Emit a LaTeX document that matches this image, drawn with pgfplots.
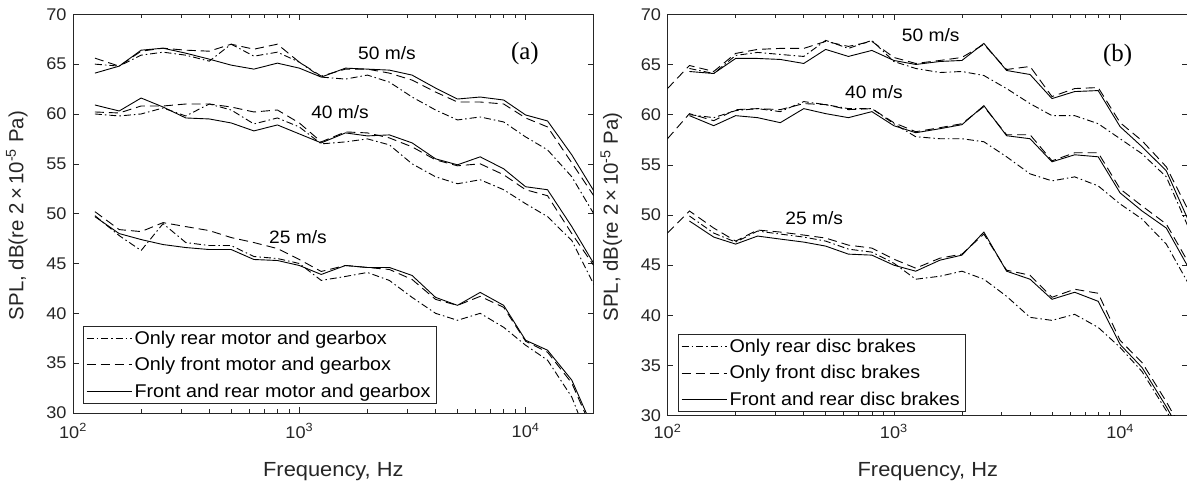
\documentclass[border=0pt]{standalone}
\usepackage{pgfplots}
\pgfplotsset{compat=1.18}
\usepackage{pgfplotstable}
\usepackage{fontspec}
\setmainfont[FakeStretch=1.07]{Liberation Sans}
\newfontfamily\plainsans{Liberation Sans}
\newfontfamily\serifff{Liberation Serif}
\definecolor{axgray}{HTML}{262626}

% columns: r = only rear (dash-dot), d = only front (dashed), s = front and rear (solid)
\pgfplotstableread{
f     r50  d50  s50  r40  d40  s40  r25  d25  s25
125   65.0 65.6 64.1 60.0 60.2 60.9 49.8 50.2 49.7
160   64.8 64.8 64.8 59.8 60.1 60.3 47.8 48.4 48.0
200   65.9 66.3 66.4 60.0 60.8 61.6 46.3 48.2 47.4
250   66.2 66.6 66.6 60.6 60.8 60.7 49.0 49.1 46.9
315   65.9 66.4 66.1 59.8 61.0 59.6 47.1 48.7 46.6
400   65.3 66.3 65.5 61.0 61.0 59.5 46.8 48.3 46.4
500   67.0 67.0 64.9 60.4 60.7 59.1 46.8 47.6 46.4
630   65.8 66.5 64.5 59.0 60.2 58.3 45.7 47.1 45.4
800   66.2 67.0 65.1 59.6 60.4 58.9 45.5 46.5 45.3
1000  65.2 65.2 64.6 58.7 59.1 58.0 45.0 45.4 44.8
1250  63.7 63.8 63.7 57.0 57.2 57.1 43.3 44.2 43.9
1600  63.5 64.5 64.6 57.2 58.2 58.1 43.7 44.8 44.8
2000  63.9 64.5 64.5 57.5 58.1 57.8 44.1 44.6 44.6
2500  63.2 64.1 64.4 56.9 57.6 57.9 43.3 44.4 44.6
3150  61.7 63.4 63.9 55.0 56.7 57.1 41.6 43.4 43.8
4000  60.4 62.2 62.6 53.7 55.4 55.5 40.0 41.4 41.6
5000  59.4 61.2 61.5 53.0 54.8 54.9 39.3 40.8 40.8
6300  59.7 61.2 61.7 53.4 55.0 55.7 40.0 41.7 42.1
8000  59.2 61.0 61.4 52.4 53.9 54.5 38.6 40.6 40.8
10000 57.7 59.6 59.9 51.0 52.4 52.7 36.8 37.2 37.3
12500 56.4 58.7 59.3 49.7 51.8 52.4 35.3 36.1 36.3
16000 53.7 55.1 55.9 47.3 48.0 48.7 31.6 33.0 33.3
20000 50.0 51.8 52.3 42.9 44.8 45.0 26.0 28.0 28.3
}\tabA

\pgfplotstableread{
f     r50  d50  s50  r40  d40  s40  r25  d25  s25
100   nan  62.6 nan  nan  57.6 nan  nan  48.2 nan
125   64.6 64.9 64.3 60.0 60.1 59.9 49.9 50.4 49.4
160   64.1 64.3 64.1 59.7 59.4 58.9 48.2 48.7 47.8
200   65.9 66.1 65.6 60.4 60.5 59.9 47.3 47.4 47.1
250   66.2 66.5 65.6 60.6 60.6 59.7 48.4 48.5 47.9
315   66.0 66.6 65.5 60.3 60.5 59.2 48.1 48.3 47.6
400   65.8 66.6 65.1 61.3 61.1 60.6 47.8 48.0 47.3
500   67.4 67.3 66.5 61.0 61.0 60.1 47.4 47.7 46.9
630   66.6 66.8 65.8 60.6 60.5 59.7 46.6 47.0 46.1
800   67.4 67.3 66.4 60.6 60.6 60.3 46.3 46.7 46.0
1000  65.3 65.7 65.4 59.1 59.2 58.9 45.2 45.6 45.0
1250  64.6 65.1 65.0 57.8 58.3 58.2 43.6 44.7 44.4
1600  64.2 65.4 65.3 57.6 58.7 58.6 43.9 45.7 45.5
2000  64.3 65.7 65.4 57.6 59.1 59.0 44.4 46.1 46.0
2500  63.9 67.0 67.1 57.3 60.8 60.9 43.6 48.1 48.3
3150  62.6 64.5 64.4 55.8 58.0 57.9 41.9 44.5 44.4
4000  61.1 64.8 64.0 54.1 58.0 57.6 39.8 44.0 43.6
5000  59.9 61.8 61.6 53.4 55.4 55.3 39.5 41.8 41.6
6300  59.9 62.6 62.3 53.8 56.2 56.0 40.1 42.6 42.3
8000  59.1 62.7 62.4 52.9 56.2 55.8 38.8 42.2 41.4
10000 57.6 59.2 58.8 51.1 52.6 52.2 36.8 37.5 37.1
12500 56.1 57.4 56.8 49.6 50.9 50.4 34.4 35.3 34.8
16000 53.8 54.8 54.4 47.1 49.1 48.7 30.5 31.4 30.9
20000 48.8 50.5 49.5 43.2 45.3 44.8 26.5 27.5 27.0
}\tabB

\tikzset{
  dd/.style={black, line width=0.9bp, dash pattern=on 7bp off 3bp on 1.5bp off 3bp},
  ds/.style={black, line width=0.9bp, dash pattern=on 9bp off 5bp},
  sl/.style={black, line width=0.9bp},
}

\pgfplotsset{
  legend image code/.code={\draw[#1] (0bp,0bp) -- (45bp,0bp);},
}

\begin{document}
\begin{tikzpicture}
\useasboundingbox (0,0) rectangle (1187bp,484bp);

\begin{axis}[
  xmode=log, xmin=100, xmax=20000, ymin=30, ymax=70,
  scale only axis, width=520.7bp, height=398.7bp,
  at={(73bp,71bp)}, anchor=south west,
  xtick={100,1000,10000},
  xticklabels={10\textsuperscript{2},10\textsuperscript{3},10\textsuperscript{4}},
  ytick={30,35,40,45,50,55,60,65,70},
  /pgf/number format/assume math mode=true,
  axis line style={axgray, line width=0.6bp},
  every tick/.style={axgray, line width=0.6bp},
  major tick length=6bp, minor tick length=3.5bp,
  tick label style={font=\fontsize{17}{20}\selectfont, text=axgray},
  xticklabel style={yshift=-7bp},
  yticklabel style={xshift=-3bp},
  xlabel={Frequency, Hz},
  ylabel={\plainsans SPL, dB(re 2\,×\,10\textsuperscript{-5} Pa)},
  label style={font=\fontsize{20.5}{24}\selectfont, text=axgray},
  xlabel style={at={(axis description cs:0.5,-0.148)}, anchor=center},
  ylabel style={at={(axis description cs:-0.108,0.495)}, anchor=center},
  legend cell align=left,
  legend style={at={(rel axis cs:0.019,0.023)}, anchor=south west, draw=axgray, line width=0.6bp,
    font=\fontsize{18.5}{21}\selectfont, text=black,
    inner xsep=3bp, inner ysep=3bp, row sep=7.5bp,
    nodes={inner xsep=2.5bp}},
  ]
\addplot[dd] table[x=f,y=r50] {\tabA};
\addlegendentry{Only rear motor and gearbox}
\addplot[ds] table[x=f,y=d50] {\tabA};
\addlegendentry{Only front motor and gearbox}
\addplot[sl] table[x=f,y=s50] {\tabA};
\addlegendentry{Front and rear motor and gearbox}
\addplot[dd, forget plot] table[x=f,y=r40] {\tabA};
\addplot[ds, forget plot] table[x=f,y=d40] {\tabA};
\addplot[sl, forget plot] table[x=f,y=s40] {\tabA};
\addplot[dd, forget plot] table[x=f,y=r25] {\tabA};
\addplot[ds, forget plot] table[x=f,y=d25] {\tabA};
\addplot[sl, forget plot] table[x=f,y=s25] {\tabA};
\node[font=\fontsize{18}{21}\selectfont] at (axis cs:2441,66.1) {50 m/s};
\node[font=\fontsize{18}{21}\selectfont] at (axis cs:1514,60.2) {40 m/s};
\node[font=\fontsize{18}{21}\selectfont] at (axis cs:986,47.6) {25 m/s};
\node[font=\serifff\fontsize{25}{28}\selectfont] at (axis cs:9935,66.1) {(a)};
\end{axis}

\begin{axis}[
  xmode=log, xmin=100, xmax=20000, ymin=30, ymax=70,
  scale only axis, width=520.7bp, height=401.4bp,
  at={(667.5bp,68.3bp)}, anchor=south west,
  xtick={100,1000,10000},
  xticklabels={10\textsuperscript{2},10\textsuperscript{3},10\textsuperscript{4}},
  ytick={30,35,40,45,50,55,60,65,70},
  /pgf/number format/assume math mode=true,
  axis line style={axgray, line width=0.6bp},
  every tick/.style={axgray, line width=0.6bp},
  major tick length=6bp, minor tick length=3.5bp,
  tick label style={font=\fontsize{17}{20}\selectfont, text=axgray},
  xticklabel style={yshift=-5bp},
  yticklabel style={xshift=-3bp},
  xlabel={Frequency, Hz},
  ylabel={\plainsans SPL, dB(re 2\,×\,10\textsuperscript{-5} Pa)},
  label style={font=\fontsize{20.5}{24}\selectfont, text=axgray},
  xlabel style={at={(axis description cs:0.5,-0.14)}, anchor=center},
  ylabel style={at={(axis description cs:-0.108,0.495)}, anchor=center},
  legend cell align=left,
  legend style={at={(rel axis cs:0.02,0.009)}, anchor=south west, draw=axgray, line width=0.6bp,
    font=\fontsize{18.5}{21}\selectfont, text=black,
    inner xsep=3bp, inner ysep=3bp, row sep=7.5bp,
    nodes={inner xsep=2.5bp}},
  ]
\addplot[dd] table[x=f,y=r50] {\tabB};
\addlegendentry{Only rear disc brakes}
\addplot[ds] table[x=f,y=d50] {\tabB};
\addlegendentry{Only front disc brakes}
\addplot[sl] table[x=f,y=s50] {\tabB};
\addlegendentry{Front and rear disc brakes}
\addplot[dd, forget plot] table[x=f,y=r40] {\tabB};
\addplot[ds, forget plot] table[x=f,y=d40] {\tabB};
\addplot[sl, forget plot] table[x=f,y=s40] {\tabB};
\addplot[dd, forget plot] table[x=f,y=r25] {\tabB};
\addplot[ds, forget plot] table[x=f,y=d25] {\tabB};
\addplot[sl, forget plot] table[x=f,y=s25] {\tabB};
\node[font=\fontsize{18}{21}\selectfont] at (axis cs:1455,67.9) {50 m/s};
\node[font=\fontsize{18}{21}\selectfont] at (axis cs:817,62.2) {40 m/s};
\node[font=\fontsize{18}{21}\selectfont] at (axis cs:445,49.7) {25 m/s};
\node[font=\serifff\fontsize{25}{28}\selectfont] at (axis cs:9750,65.9) {(b)};
\end{axis}
\end{tikzpicture}
\end{document}
